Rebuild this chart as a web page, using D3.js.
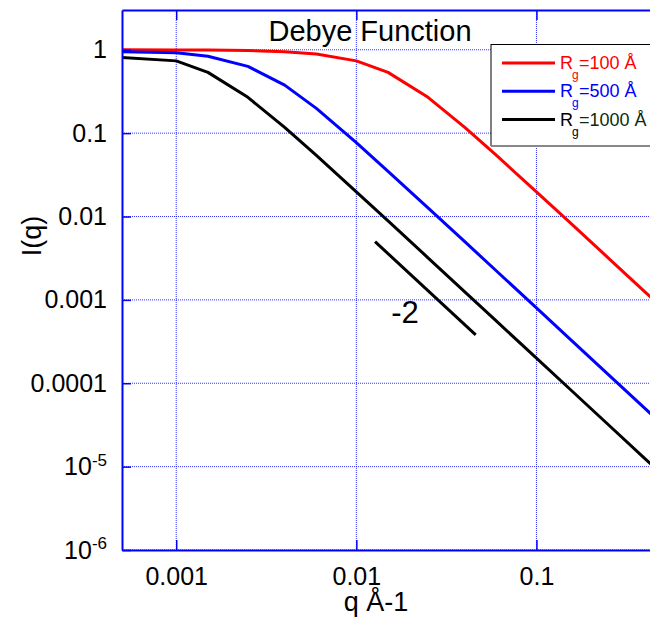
<!DOCTYPE html>
<html>
<head>
<meta charset="utf-8">
<script src="https://cdn.jsdelivr.net/npm/d3@7"></script>
<style>
  body { margin: 0; background: #fff; }
  text { font-family: "Liberation Sans", Arial, Helvetica, sans-serif; }
</style>
</head>
<body>
<svg id="chart"></svg>
<script>
// q samples (1/Å) and intensities
const qValues = [0.0001, 0.001, 0.0015, 0.0025, 0.004, 0.006, 0.01, 0.015, 0.025, 0.04, 0.06, 0.1, 0.15, 0.25, 0.4, 0.6];
const iRg100 = [1.0, 0.997, 0.992, 0.979, 0.949, 0.89, 0.736, 0.536, 0.269, 0.117, 0.054, 0.0198, 0.00885, 0.0032, 0.00125, 0.000555];
const iRg500 = [0.999, 0.922, 0.836, 0.633, 0.377, 0.198, 0.0768, 0.0349, 0.0127, 0.00499, 0.00222, 0.0008, 0.000356, 0.000128, 0.00005, 0.0000222];
const iRg1000 = [0.997, 0.736, 0.536, 0.269, 0.117, 0.054, 0.0198, 0.00885, 0.0032, 0.00125, 0.000555, 0.0002, 0.0000889, 0.000032, 0.0000125, 0.00000556];

const seriesNames = ["100", "500", "1000"];
const seriesColors = ["#ff0000", "#0000ff", "#000000"];
const legendTextColors = ["#ff0000", "#0000ff", "#0b2b0b"];

const xTicks = [0.001, 0.01, 0.1];
const xTickLabels = ["0.001", "0.01", "0.1"];
const yTicks = [1, 0.1, 0.01, 0.001, 0.0001, 0.00001, 0.000001];
const yTickLabels = ["1", "0.1", "0.01", "0.001", "0.0001", "10^-5", "10^-6"];

// slope guide line, end points
const slopeQ = [0.0127, 0.046];
const slopeI = [0.005, 0.00038];

const W = 650, H = 618;
const plotLeft = 122, plotRight = 650, plotTop = 10, plotBottom = 550;

const svg = d3.select("#chart").attr("width", W).attr("height", H);

const x = d3.scaleLog().domain([0.0005, 0.427]).range([plotLeft, plotRight]);
const y = d3.scaleLog().domain([0.000001, 3]).range([plotBottom, plotTop]);

svg.append("defs").append("clipPath").attr("id", "plot-clip")
  .append("rect").attr("x", plotLeft).attr("y", plotTop)
  .attr("width", plotRight - plotLeft).attr("height", plotBottom - plotTop);

// grid
const grid = svg.append("g").attr("class", "grid");
grid.selectAll(".gx").data(xTicks).enter().append("line")
  .attr("x1", d => x(d)).attr("x2", d => x(d))
  .attr("y1", plotTop).attr("y2", plotBottom)
  .attr("stroke", "#0000ff").attr("stroke-width", 1)
  .attr("stroke-dasharray", "1,1").attr("opacity", 0.8);
grid.selectAll(".gy").data(yTicks).enter().append("line")
  .attr("x1", plotLeft).attr("x2", plotRight)
  .attr("y1", d => y(d)).attr("y2", d => y(d))
  .attr("stroke", "#0000ff").attr("stroke-width", 1)
  .attr("stroke-dasharray", "1,1").attr("opacity", 0.8);

// curves
const line = d3.line().x(d => x(d[0])).y(d => y(d[1]));
const curves = [iRg100, iRg500, iRg1000];
svg.append("g").attr("clip-path", "url(#plot-clip)")
  .selectAll("path").data(curves).enter().append("path")
  .attr("d", vals => line(qValues.map((q, i) => [q, vals[i]])))
  .attr("fill", "none")
  .attr("stroke", (d, i) => seriesColors[i])
  .attr("stroke-width", 3)
  .attr("stroke-linejoin", "round");

// -2 slope guide
svg.append("line")
  .attr("x1", x(slopeQ[0])).attr("y1", y(slopeI[0]))
  .attr("x2", x(slopeQ[1])).attr("y2", y(slopeI[1]))
  .attr("stroke", "black").attr("stroke-width", 3);
svg.append("text")
  .attr("x", 405).attr("y", 323)
  .attr("text-anchor", "middle")
  .style("font-size", "31px")
  .text("-2");

// axes
const xAxis = d3.axisBottom(x).tickValues(xTicks)
  .tickFormat((d, i) => xTickLabels[i]).tickSize(-10).tickSizeOuter(0).tickPadding(17);
const gx = svg.append("g").attr("transform", "translate(0," + plotBottom + ")").call(xAxis);
gx.select(".domain").attr("stroke", "#0000ff").attr("stroke-width", 2);
gx.selectAll(".tick line").attr("stroke", "#0000ff").attr("stroke-width", 1.5);
gx.selectAll("text").style("font-size", "25px").attr("fill", "black")
  .style("font-family", "'Liberation Sans', Arial, sans-serif");

const xTop = d3.axisTop(x).tickValues(xTicks).tickFormat("").tickSize(-10).tickSizeOuter(0);
const gt = svg.append("g").attr("transform", "translate(0," + plotTop + ")").call(xTop);
gt.select(".domain").attr("stroke", "#0000ff").attr("stroke-width", 2);
gt.selectAll(".tick line").attr("stroke", "#0000ff").attr("stroke-width", 1.5);

const yAxis = d3.axisLeft(y).tickValues(yTicks)
  .tickFormat((d, i) => yTickLabels[i]).tickSize(-9).tickSizeOuter(0).tickPadding(15);
const gy = svg.append("g").attr("transform", "translate(" + plotLeft + ",0)").call(yAxis);
gy.select(".domain").attr("stroke", "#0000ff").attr("stroke-width", 2);
gy.selectAll(".tick line").attr("stroke", "#0000ff").attr("stroke-width", 1.5);
gy.selectAll("text").style("font-size", "25px").attr("fill", "black")
  .style("font-family", "'Liberation Sans', Arial, sans-serif")
  .each(function () {
    const t = d3.select(this);
    const s = t.text();
    if (s.indexOf("^") >= 0) {
      const parts = s.split("^");
      t.text(null);
      t.append("tspan").text(parts[0]);
      t.append("tspan").attr("dy", "-0.55em").style("font-size", "17px").text(parts[1]);
    }
  });

// title and axis labels
svg.append("text")
  .attr("x", 370).attr("y", 41)
  .attr("text-anchor", "middle")
  .style("font-size", "29px")
  .text("Debye Function");

svg.append("text")
  .attr("x", 376).attr("y", 611)
  .attr("text-anchor", "middle")
  .style("font-size", "27px")
  .text("q Å-1");

svg.append("text")
  .attr("transform", "translate(41,236) rotate(-90)")
  .attr("text-anchor", "middle")
  .style("font-size", "27px")
  .text("I(q)");

// legend
const lg = svg.append("g");
lg.append("rect")
  .attr("x", 491).attr("y", 44.5).attr("width", 170).attr("height", 101)
  .attr("fill", "white").attr("stroke", "#000").attr("stroke-width", 1);
lg.append("line")
  .attr("x1", 491).attr("x2", 660).attr("y1", 146).attr("y2", 146)
  .attr("stroke", "#888").attr("stroke-width", 2);

const rows = lg.selectAll(".row").data(seriesNames).enter().append("g")
  .attr("transform", (d, i) => "translate(0," + (63 + i * 28.3) + ")");
rows.append("line")
  .attr("x1", 502).attr("x2", 555).attr("y1", 0).attr("y2", 0)
  .attr("stroke", (d, i) => seriesColors[i]).attr("stroke-width", 3);
const lt = rows.append("text")
  .attr("x", 560).attr("y", 6)
  .style("font-size", "18px")
  .attr("fill", (d, i) => i === 2 ? "#000" : legendTextColors[i]);
lt.append("tspan").text("R");
lt.append("tspan").attr("x", 572).attr("dy", 10).style("font-size", "12px").text("g");
lt.append("tspan").attr("x", 579).attr("dy", -10)
  .attr("fill", (d, i) => legendTextColors[i])
  .text(d => "=" + d + " Å");
</script>
</body>
</html>
